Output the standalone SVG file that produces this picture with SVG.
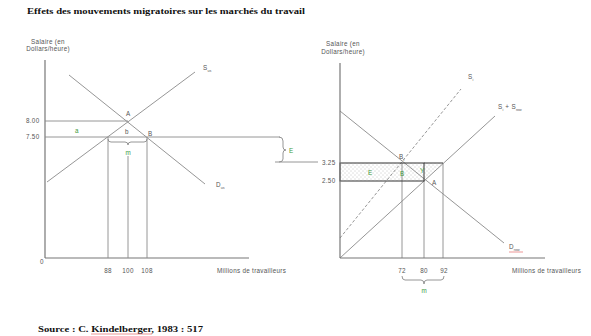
<svg xmlns="http://www.w3.org/2000/svg" width="591" height="336" viewBox="0 0 591 336">
<defs>
<style>
.ax{stroke:#777;stroke-width:1.2;fill:none}
.ln{stroke:#8a8a8a;stroke-width:0.9;fill:none}
.bk{stroke:#333;stroke-width:1;fill:none}
.t{font-family:"Liberation Sans",Arial,sans-serif;font-size:6.3px;letter-spacing:0.3px;fill:#555}
.g{font-family:"Liberation Sans",Arial,sans-serif;font-size:6.3px;fill:#3d9a3d}
.s{font-size:3.6px;letter-spacing:0}
.h{font-family:"Liberation Serif","Times New Roman",serif;font-weight:bold;fill:#111}
.sp{stroke:#e05050;stroke-width:0.6;fill:none}
</style>
<pattern id="dots" width="4" height="4" patternUnits="userSpaceOnUse">
<rect width="4" height="4" fill="#fff"/>
<circle cx="1" cy="1" r="0.45" fill="#888"/>
<circle cx="3" cy="3" r="0.45" fill="#888"/>
</pattern>
</defs>
<rect width="591" height="336" fill="#fff"/>
<text class="h" x="27" y="14" font-size="9" textLength="278" lengthAdjust="spacingAndGlyphs">Effets des mouvements migratoires sur les marchés du travail</text>

<g id="left-chart">
<text class="t" x="48" y="44" text-anchor="middle">Salaire (en</text>
<text class="t" x="48" y="51" text-anchor="middle">Dollars/heure)</text>
<line class="ax" x1="45" y1="60" x2="45" y2="258"/>
<line class="ax" x1="45" y1="258" x2="249" y2="258"/>
<text class="t" x="40" y="264">0</text>
<text class="t" x="108" y="273" text-anchor="middle">88</text>
<text class="t" x="128" y="273" text-anchor="middle">100</text>
<text class="t" x="147" y="273" text-anchor="middle">108</text>
<text class="t" x="217" y="273">Millions de travailleurs</text>
<text class="t" x="26" y="123">8.00</text>
<text class="t" x="26" y="139">7.50</text>
</g>

<g id="connectors">
<line class="ln" x1="47" y1="182" x2="195" y2="72"/>
<line class="ln" x1="69" y1="75" x2="205" y2="184"/>
<line class="ln" x1="45" y1="121" x2="128" y2="121"/>
<line class="ln" x1="45" y1="137" x2="280" y2="137"/>
<line class="ln" x1="108" y1="137" x2="108" y2="258"/>
<line class="ln" x1="147" y1="137" x2="147" y2="258"/>
<line class="ln" x1="128" y1="156" x2="128" y2="258"/>
<path class="ln" d="M108,139 Q108,142 111,142 L125,142 Q128,142 128,145 Q128,142 131,142 L144,142 Q147,142 147,139"/>
<path class="ln" d="M279,137 Q283,137 283,141 L283,147 Q283,150 286,150 Q283,150 283,153 L283,159 Q283,162 279,162"/>
<line class="ln" x1="275" y1="162" x2="318" y2="162"/>
<rect x="340" y="163" width="84" height="18" fill="url(#dots)"/>
<polygon points="424,163 443,163 424,181" fill="url(#dots)"/>
<line class="ln" x1="340" y1="111" x2="504" y2="243"/>
<line class="ln" x1="340" y1="238" x2="461" y2="89" stroke-dasharray="3,2"/>
<line class="ln" x1="340" y1="258" x2="495" y2="116"/>
<line class="ln" x1="402" y1="163" x2="402" y2="258"/>
<line class="ln" x1="424" y1="181" x2="424" y2="258"/>
<line class="ln" x1="443" y1="163" x2="443" y2="258"/>
<rect class="bk" x="340" y="163" width="84" height="18"/>
<line class="bk" x1="424" y1="163" x2="443" y2="163"/>
<path class="ln" d="M402,276 Q402,280 405,280 L421,280 Q424,280 424,284 Q424,280 427,280 L441,280 Q444,280 444,276"/>
</g>

<g id="right-chart">
<text class="t" x="343" y="46" text-anchor="middle">Salaire (en</text>
<text class="t" x="343" y="54" text-anchor="middle">Dollars/heure)</text>
<line class="ax" x1="340" y1="63" x2="340" y2="258"/>
<line class="ax" x1="340" y1="258" x2="545" y2="258"/>
<text class="t" x="322" y="165">3.25</text>
<text class="t" x="322" y="183">2.50</text>
<text class="t" x="402" y="273" text-anchor="middle">72</text>
<text class="t" x="424" y="273" text-anchor="middle">80</text>
<text class="t" x="444" y="273" text-anchor="middle">92</text>
<text class="t" x="512" y="273">Millions de travailleurs</text>
</g>

<g id="labels">
<text class="t" x="203" y="70">S<tspan class="s" dy="1.5">us</tspan></text>
<text class="t" x="216" y="187">D<tspan class="s" dy="1.5">us</tspan></text>
<text class="t" x="126" y="116">A</text>
<text class="g" x="75" y="133">a</text>
<text class="t" x="125" y="134">b</text>
<text class="t" x="148" y="136">B</text>
<text class="g" x="128" y="155" text-anchor="middle">m</text>
<text class="g" x="289" y="153">E</text>
<text class="t" x="468" y="79">S<tspan class="s" dy="1.5">i</tspan></text>
<text class="t" x="498" y="109">S<tspan class="s" dy="1.5">i</tspan><tspan dy="-1.5"> + S</tspan><tspan class="s" dy="1.5">row</tspan></text>
<text class="t" x="509" y="249">D<tspan class="s" dy="1.5">row</tspan></text>
<line class="sp" x1="509" y1="252" x2="523" y2="252"/>
<text class="t" x="399" y="159">B<tspan class="s" dy="1.5">i</tspan></text>
<text class="g" x="368" y="175">E</text>
<text class="g" x="400" y="176">B</text>
<text class="g" x="420" y="173">Y</text>
<text class="t" x="432" y="185">A</text>
<text class="g" x="424" y="293" text-anchor="middle">m</text>
</g>

<text class="h" x="38" y="332" font-size="8.5" textLength="165" lengthAdjust="spacingAndGlyphs">Source : C. Kindelberger, 1983 : 517</text>
<line class="sp" x1="91" y1="334" x2="152" y2="334"/>
</svg>
